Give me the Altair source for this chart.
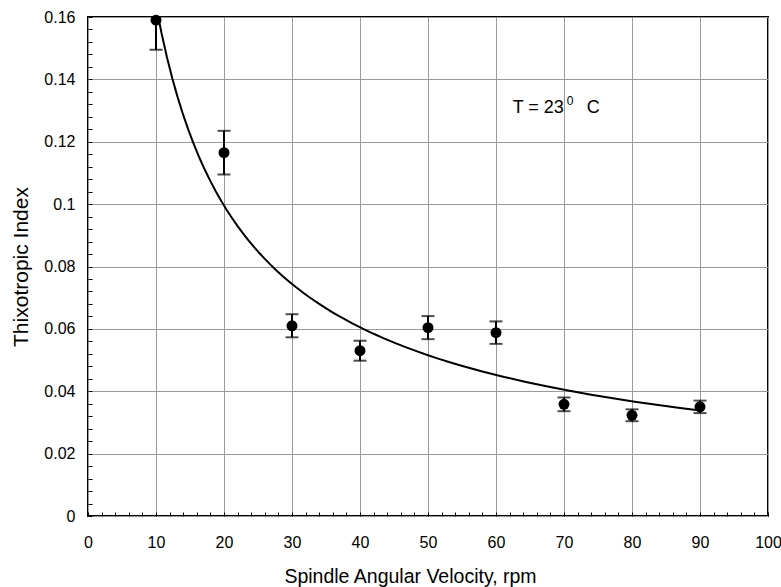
import altair as alt
import pandas as pd

rpm = [10, 20, 30, 40, 50, 60, 70, 80, 90]
index = [0.159, 0.1165, 0.061, 0.053, 0.0604, 0.0588, 0.0358, 0.0323, 0.035]
err = [0.0095, 0.007, 0.0037, 0.0032, 0.0037, 0.0036, 0.0022, 0.0019, 0.002]

x_ticks = list(range(0, 101, 10))
y_ticks = [0, 0.02, 0.04, 0.06, 0.08, 0.10, 0.12, 0.14, 0.16]
x_minor = list(range(0, 101, 2))
y_minor = [round(i * 0.004, 3) for i in range(0, 41)]

df = pd.DataFrame({"rpm": rpm, "index": index, "err": err})
df["lo"] = df["index"] - df["err"]
df["hi"] = df["index"] + df["err"]

one = pd.DataFrame({"k": [0]})

FONT = "Liberation Sans"

xscale = alt.Scale(domain=[0, 100], nice=False, zero=False)
yscale = alt.Scale(domain=[0, 0.16], nice=False, zero=False)

x_axis = alt.Axis(values=x_ticks, title="Spindle Angular Velocity, rpm", grid=True,
                  gridColor="#9a9a9a", gridWidth=1, gridOpacity=1, ticks=False, domain=False,
                  labelFont=FONT, labelFontSize=16, labelColor="black", labelPadding=18,
                  titleFont=FONT, titleFontSize=19.5, titleFontWeight="normal", titleColor="black",
                  titlePadding=17, titleX=322, labelFlush=False)
y_axis = alt.Axis(values=y_ticks, format=".2~f", title="Thixotropic Index", grid=True,
                  gridColor="#9a9a9a", gridWidth=1, gridOpacity=1, ticks=False, domain=False,
                  labelFont=FONT, labelFontSize=16, labelColor="black", labelPadding=13,
                  titleFont=FONT, titleFontSize=21, titleFontWeight="normal", titleColor="black",
                  titlePadding=12, labelFlush=False)

base = alt.Chart(df)
XN = alt.X("rpm:Q", axis=None)

points = base.mark_circle(size=120, color="black", opacity=1).encode(
    x=alt.X("rpm:Q", scale=xscale, axis=x_axis),
    y=alt.Y("index:Q", scale=yscale, axis=y_axis),
)

bars = base.mark_rule(color="black", strokeWidth=2, clip=True).encode(
    x=XN, y=alt.Y("lo:Q", axis=None), y2="hi:Q"
)
cap_lo = base.mark_tick(color="black", orient="horizontal", size=13, thickness=2, clip=True).encode(
    x=XN, y=alt.Y("lo:Q", axis=None)
)
cap_hi = base.mark_tick(color="black", orient="horizontal", size=13, thickness=2, clip=True).encode(
    x=XN, y=alt.Y("hi:Q", axis=None)
)

fit = base.transform_regression("rpm", "index", method="pow").mark_line(
    color="black", strokeWidth=2, clip=True
).encode(x=XN, y=alt.Y("index:Q", axis=None))

minor = base.mark_point(opacity=0).encode(
    x=alt.X("rpm:Q", axis=alt.Axis(values=x_minor, labels=False, title=None, grid=False,
                                  domain=False, ticks=True, tickSize=4, tickColor="black",
                                  tickWidth=1, orient="bottom", offset=-4)),
    y=alt.Y("index:Q", axis=alt.Axis(values=y_minor, labels=False, title=None, grid=False,
                                    domain=False, ticks=True, tickSize=4, tickColor="black",
                                    tickWidth=1, orient="left", offset=-4)),
)

TX = alt.X("x:Q", axis=None)
TY = alt.Y("y:Q", axis=None)
tbase = alt.Chart(one).transform_calculate(x="62.45", y="0.1308")

txt_main = tbase.mark_text(align="left", baseline="middle", font=FONT, fontSize=18,
                           fontWeight="normal", color="black").encode(
    x=TX, y=TY, text=alt.value("T = 23"))
txt_sup = tbase.mark_text(align="left", baseline="middle", font=FONT, fontSize=12,
                          fontWeight="normal", color="black", dx=54, dy=-7).encode(
    x=TX, y=TY, text=alt.value("0"))
txt_c = tbase.mark_text(align="left", baseline="middle", font=FONT, fontSize=18,
                        fontWeight="normal", color="black", dx=74).encode(
    x=TX, y=TY, text=alt.value("C"))

chart = alt.layer(points, minor, fit, bars, cap_lo, cap_hi, txt_main, txt_sup, txt_c).resolve_axis(
    x="independent", y="independent"
).properties(
    width=680, height=499,
    autosize=alt.AutoSizeParams(type="none"),
    padding={"left": 88, "top": 17, "right": 13, "bottom": 71},
    background="white",
).configure_view(stroke="black", strokeWidth=2)

chart.save("out.html", embed_options={"renderer": "svg", "actions": False})
